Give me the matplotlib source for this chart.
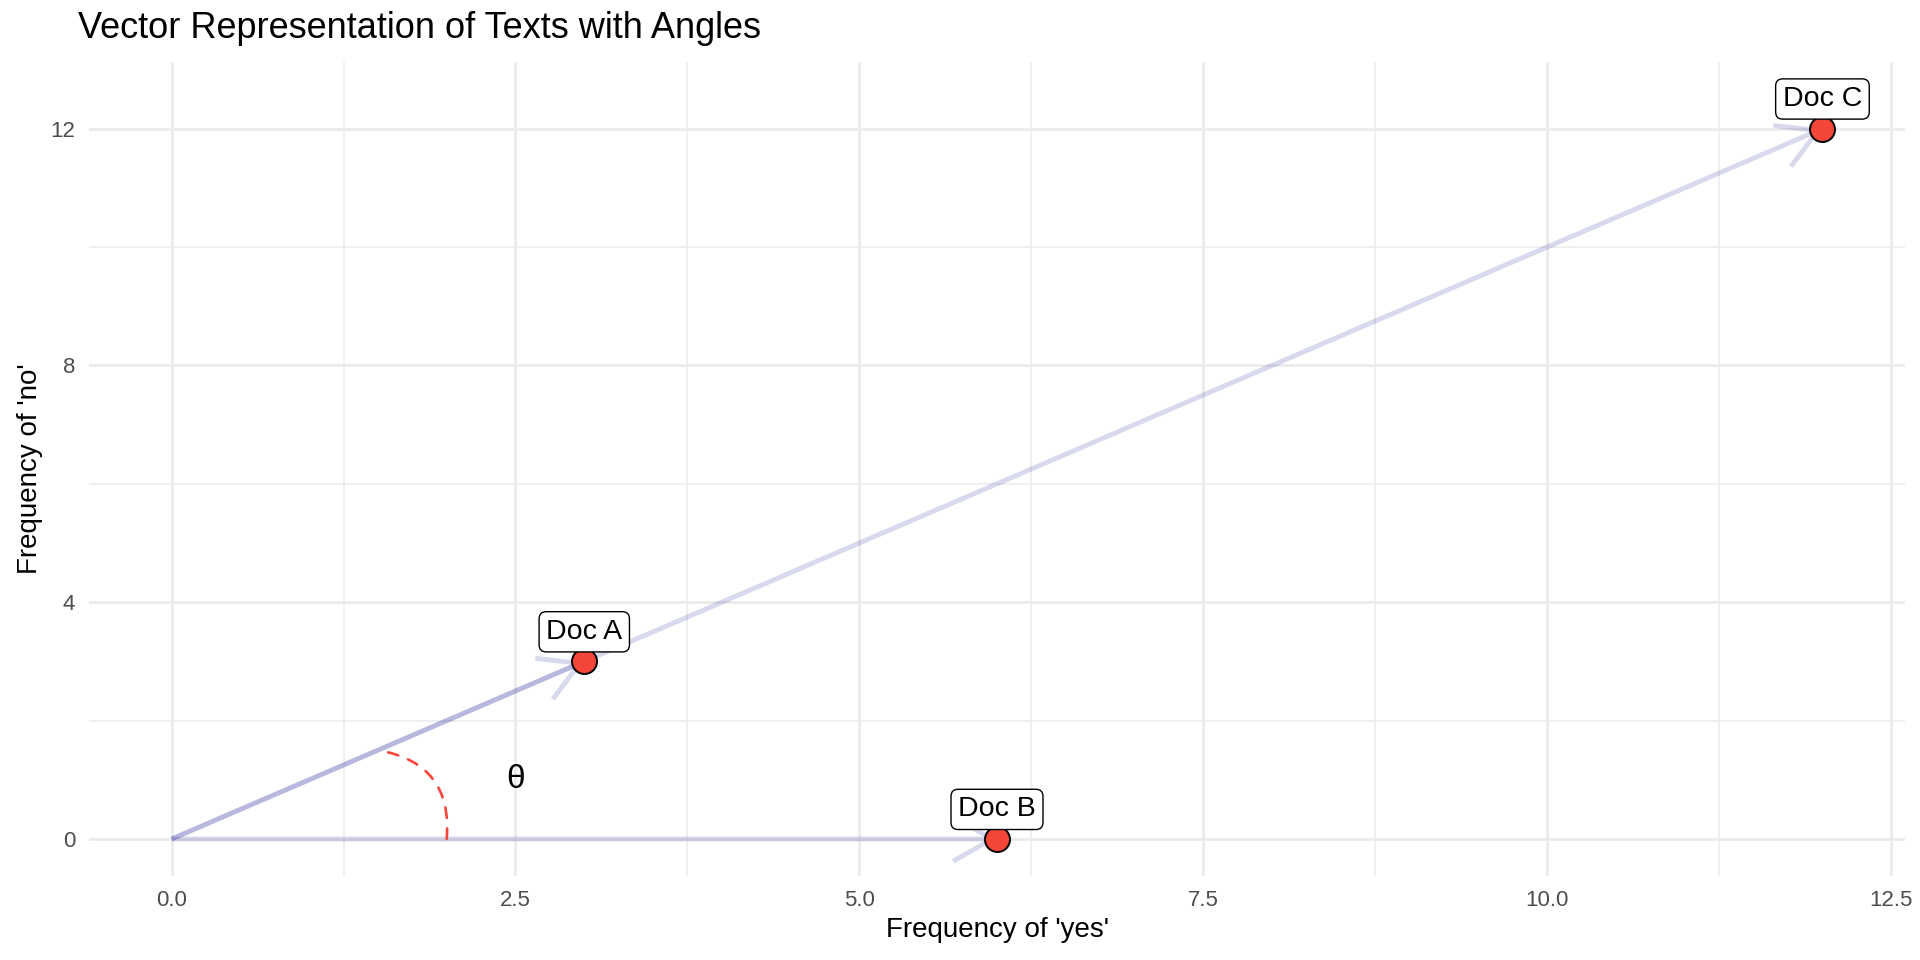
import matplotlib
matplotlib.use("Agg")
import matplotlib.pyplot as plt
from matplotlib.patches import FancyArrowPatch, ArrowStyle

# ---- data ----
doc_names = ["Doc A", "Doc B", "Doc C"]
freq_yes = [3, 6, 12]
freq_no = [3, 0, 12]
label_nudge_y = 0.5
arc_start = (2.0, 0.0)
arc_end = (1.5, 1.5)
theta_pos = (2.5, 1.0)
x_major = [0.0, 2.5, 5.0, 7.5, 10.0, 12.5]
x_minor = [1.25, 3.75, 6.25, 8.75, 11.25]
y_major = [0, 4, 8, 12]
y_minor = [2, 6, 10]

title = "Vector Representation of Texts with Angles"
xlabel = "Frequency of 'yes'"
ylabel = "Frequency of 'no'"

plt.rcParams['font.family'] = ['Liberation Sans', 'DejaVu Sans']

W, H = 1920, 960
fig = plt.figure(figsize=(W / 100, H / 100), dpi=100)
ax = fig.add_axes([89 / W, (H - 876) / H, (1905 - 89) / W, (876 - 62) / H])
ax.set_xlim(-0.6, 12.6)
ax.set_ylim(-0.625, 13.125)

for s in ax.spines.values():
    s.set_visible(False)
ax.set_xticks(x_major)
ax.set_xticks(x_minor, minor=True)
ax.set_yticks(y_major)
ax.set_yticks(y_minor, minor=True)
ax.set_xticklabels([f"{v:.1f}" for v in x_major])
ax.set_yticklabels([str(v) for v in y_major])
ax.tick_params(which='both', length=0)
ax.tick_params(axis='both', labelsize=16, labelcolor='#4D4D4D', pad=10)
ax.grid(which='major', color='#EBEBEB', lw=2.0)
ax.grid(which='minor', color='#EBEBEB', lw=1.1)
ax.set_axisbelow(True)

vec_color = (0.0, 0.0, 0.545)
for x, y in zip(freq_yes, freq_no):
    arr = FancyArrowPatch((0, 0), (x, y),
                          arrowstyle=ArrowStyle('->', head_length=28, head_width=16),
                          mutation_scale=1, color=vec_color, alpha=0.15, lw=3.5,
                          shrinkA=0, shrinkB=0, capstyle='butt', joinstyle='miter', zorder=2)
    ax.add_patch(arr)

arc = FancyArrowPatch(arc_start, arc_end, connectionstyle='arc3,rad=0.46',
                      arrowstyle='-', color='#F4473A', lw=1.9, linestyle=(0, (4, 4)),
                      shrinkA=0, shrinkB=0, zorder=3)
ax.add_patch(arc)

ax.plot(freq_yes, freq_no, 'o', ms=18, mfc='#F4473A', mec='black', mew=1.4,
        ls='none', zorder=4)

for name, x, y in zip(doc_names, freq_yes, freq_no):
    ax.text(x, y + label_nudge_y, name, ha='center', va='center', fontsize=20.5,
            color='black', zorder=5,
            bbox=dict(boxstyle='round,pad=0.25,rounding_size=0.25', fc='white',
                      ec='black', lw=1.0))

ax.text(theta_pos[0], theta_pos[1], "θ", ha='center', va='center', fontsize=24,
        color='black', zorder=5)

fig.text(78 / W, 1 - 38 / H, title, ha='left', va='baseline', fontsize=26, color='black')
fig.text((89 + 1905) / 2 / W, 1 - 930 / H, xlabel, ha='center', va='center',
         fontsize=20, color='black')
fig.text(30 / W, ((H - 876) + (876 - 62) / 2) / H, ylabel, ha='center', va='center',
         rotation=90, fontsize=20, color='black')

fig.savefig("out.png", dpi=100, facecolor='white')
